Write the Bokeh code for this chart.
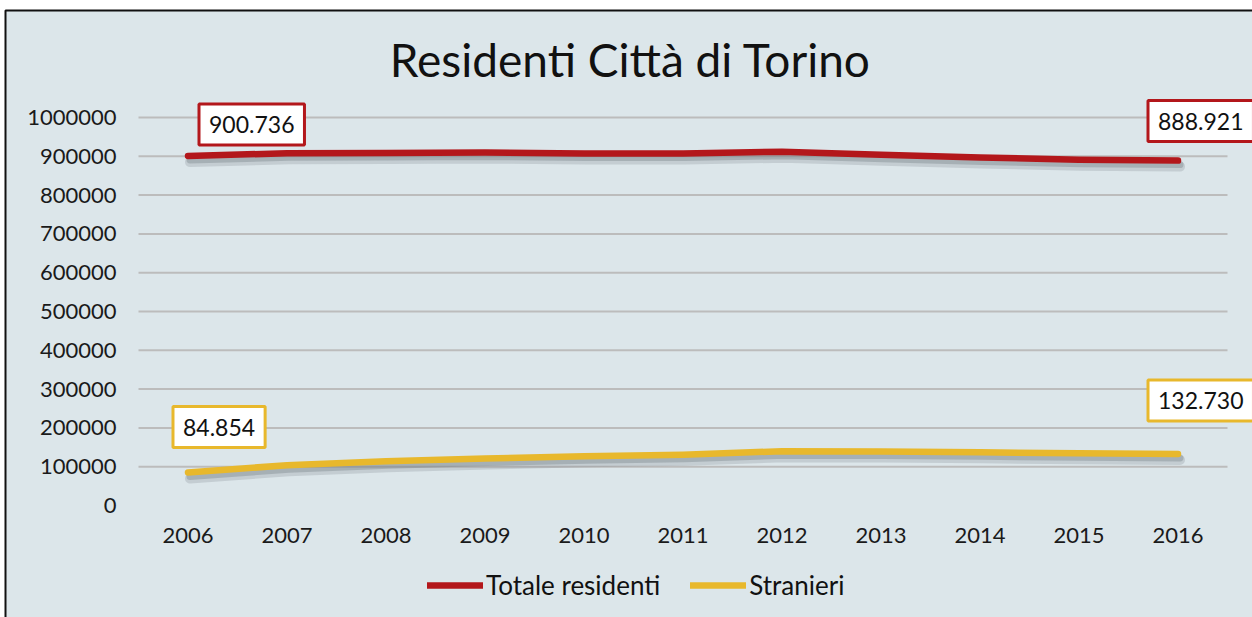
from bokeh.plotting import figure
from bokeh.models import (Range1d, FixedTicker, NumeralTickFormatter, Label, Legend, LegendItem,
                          BoxAnnotation)
from bokeh.embed import file_html
from bokeh.resources import INLINE

# ---- data ----
years = [2006, 2007, 2008, 2009, 2010, 2011, 2012, 2013, 2014, 2015, 2016]
totale = [900736, 908000, 908800, 909500, 907500, 907000, 911800, 904000, 897000, 891000, 888921]
stranieri = [84854, 104000, 114000, 121000, 127000, 131000, 140000, 139000, 137000, 134500, 132730]
y_ticks = [0, 100000, 200000, 300000, 400000, 500000, 600000, 700000, 800000, 900000, 1000000]
title_text = "Residenti Città di Torino"
series_names = ["Totale residenti", "Stranieri"]

RED = "#b3171b"
YEL = "#e8b82c"
BG = "#dce6ea"
FONT = "Lato"

W, H = 1252, 617
X0, X1 = years[0] - 0.5, years[-1] + 0.5          # category band limits
PXX = 99.0                                         # pixels per year
PXY = 388.0 / 1000000                              # pixels per resident
LEFT, BOTTOM = 138, 505                            # pixel position of (X0, 0)
x_start, x_end = X0 - LEFT / PXX, X0 + (W - LEFT) / PXX
y_start, y_end = -(H - BOTTOM) / PXY, BOTTOM / PXY

p = figure(width=W, height=H, output_backend="svg", toolbar_location=None,
           x_range=Range1d(x_start, x_end), y_range=Range1d(y_start, y_end),
           min_border=0)
p.background_fill_color = "white"
p.border_fill_color = "white"
p.outline_line_color = None

# chart area with black frame
p.add_layout(BoxAnnotation(left=5, right=W + 20, bottom=-20, top=H - 10,
                           left_units="screen", right_units="screen",
                           bottom_units="screen", top_units="screen",
                           fill_color=BG, fill_alpha=1, line_color="#111", line_alpha=1,
                           line_width=2, level="underlay"))

# horizontal grid lines drawn across the category span only
p.segment(x0=[X0] * 10, x1=[X1] * 10, y0=y_ticks[1:], y1=y_ticks[1:],
          line_color="#bcbcbc", line_width=2)

# shadow ranges (shifted by a few pixels)
p.extra_y_ranges = {"sh": Range1d(y_start + 4 / PXY, y_end + 4 / PXY),
                    "sh2": Range1d(y_start + 6 / PXY, y_end + 6 / PXY)}
p.extra_x_ranges = {"sh": Range1d(x_start - 2 / PXX, x_end - 2 / PXX)}

for vals in (totale, stranieri):
    p.line(years, vals, line_width=10, color="#7a858b", alpha=0.25, line_cap="round",
           x_range_name="sh", y_range_name="sh2")
    p.line(years, vals, line_width=7, color="#6f7a80", alpha=0.35, line_cap="round",
           x_range_name="sh", y_range_name="sh")

r1 = p.line(years, totale, line_width=6.5, color=RED, line_cap="round", line_join="round")
r2 = p.line(years, stranieri, line_width=6.5, color=YEL, line_cap="round", line_join="round")

# axes drawn inside the frame at fixed data positions
p.xaxis.ticker = FixedTicker(ticks=years)
p.yaxis.ticker = FixedTicker(ticks=y_ticks)
p.yaxis.formatter = NumeralTickFormatter(format="0")
p.xaxis.fixed_location = 0
p.yaxis.fixed_location = X0
for ax in (p.xaxis[0], p.yaxis[0]):
    ax.axis_line_color = None
    ax.major_tick_line_color = None
    ax.minor_tick_line_color = None
    ax.major_label_text_font = FONT
    ax.major_label_text_font_size = "22px"
    ax.major_label_text_color = "#1a1a1a"
p.yaxis.major_label_standoff = 16
p.xaxis.major_label_standoff = 16
p.xgrid.grid_line_color = None
p.ygrid.grid_line_color = None

# title
p.add_layout(Label(x=630, y=H - 59, x_units="screen", y_units="screen", text=title_text,
                   text_font=FONT, text_font_size="46px", text_color="#111",
                   text_align="center", text_baseline="middle"))

def fmt(v):
    return f"{v:,}".replace(",", ".")

def box(x, y, txt, color, xo, yo):
    p.add_layout(Label(x=x, y=y, text=txt, x_offset=xo, y_offset=yo,
                       text_font=FONT, text_font_size="23px", text_color="#111",
                       text_align="left", text_baseline="bottom",
                       background_fill_color="white", border_line_color=color,
                       border_line_width=3, padding=(10, 12)))

box(years[0], totale[0], fmt(totale[0]), RED, 11, 11)
box(years[-1], totale[-1], fmt(totale[-1]), RED, -30, 19)
box(years[0], stranieri[0], fmt(stranieri[0]), YEL, -15, 25)
box(years[-1], stranieri[-1], fmt(stranieri[-1]), YEL, -30, 33)

legend = Legend(items=[LegendItem(label=series_names[0], renderers=[r1]),
                       LegendItem(label=series_names[1], renderers=[r2])],
                orientation="horizontal", location=(427, 16),
                label_text_font=FONT, label_text_font_size="26px", label_text_color="#111",
                glyph_width=56, glyph_height=20, label_standoff=3, spacing=30,
                background_fill_alpha=0, border_line_color=None, padding=0, margin=0)
p.add_layout(legend, "center")

open("out.html", "w").write(file_html(p, INLINE))
